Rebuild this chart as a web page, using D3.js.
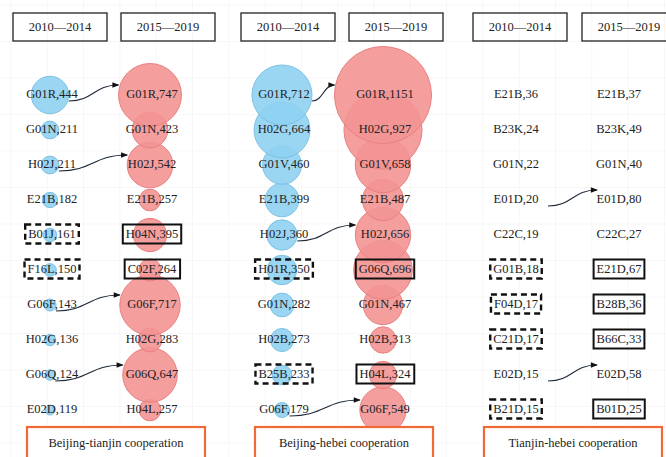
<!DOCTYPE html>
<html>
<head>
<meta charset="utf-8">
<script src="https://cdn.jsdelivr.net/npm/d3@7"></script>
<style>
  body { margin: 0; background: #fff; }
  svg text { font-family: "Liberation Serif", "DejaVu Serif", "Times New Roman", serif; font-size: 12.5px; fill: #222; }
</style>
</head>
<body>
<script>
// chart data
var periods = ["2010\u20142014", "2015\u20142019"];
var regions = ["Beijing-tianjin cooperation", "Beijing-hebei cooperation", "Tianjin-hebei cooperation"];

// Beijing-tianjin
var bjtjCodes0 = ["G01R", "G01N", "H02J", "E21B", "B01J", "F16L", "G06F", "H02G", "G06Q", "E02D"];
var bjtjValues0 = [444, 211, 211, 182, 161, 150, 143, 136, 124, 119];
var bjtjCodes1 = ["G01R", "G01N", "H02J", "E21B", "H04N", "C02F", "G06F", "H02G", "G06Q", "H04L"];
var bjtjValues1 = [747, 423, 542, 257, 395, 264, 717, 283, 647, 257];
var bjtjDashed = ["B01J", "F16L"];
var bjtjSolid = ["H04N", "C02F"];
var bjtjArrows = ["G01R", "H02J", "G06F", "G06Q"];

// Beijing-hebei
var bjhbCodes0 = ["G01R", "H02G", "G01V", "E21B", "H02J", "H01R", "G01N", "H02B", "B25B", "G06F"];
var bjhbValues0 = [712, 664, 460, 399, 360, 350, 282, 273, 233, 179];
var bjhbCodes1 = ["G01R", "H02G", "G01V", "E21B", "H02J", "G06Q", "G01N", "H02B", "H04L", "G06F"];
var bjhbValues1 = [1151, 927, 658, 487, 656, 696, 467, 313, 324, 549];
var bjhbDashed = ["H01R", "B25B"];
var bjhbSolid = ["G06Q", "H04L"];
var bjhbArrows = ["G01R", "H02J", "G06F"];

// Tianjin-hebei
var tjhbCodes0 = ["E21B", "B23K", "G01N", "E01D", "C22C", "G01B", "F04D", "C21D", "E02D", "B21D"];
var tjhbValues0 = [36, 24, 22, 20, 19, 18, 17, 17, 15, 15];
var tjhbCodes1 = ["E21B", "B23K", "G01N", "E01D", "C22C", "E21D", "B28B", "B66C", "E02D", "B01D"];
var tjhbValues1 = [37, 49, 40, 80, 27, 67, 36, 33, 58, 25];
var tjhbDashed = ["G01B", "F04D", "C21D", "B21D"];
var tjhbSolid = ["E21D", "B28B", "B66C", "B01D"];
var tjhbArrows = ["E01D", "E02D"];

(function(){
  var width = 666, height = 457;

  // panel layout: column centres, header boxes, bottom box
  var panels = [
    {codes: [bjtjCodes0, bjtjCodes1], values: [bjtjValues0, bjtjValues1], dashed: bjtjDashed, solid: bjtjSolid, arrows: bjtjArrows,
     cols: [52, 152], heads: [13, 121], foot: 27, bubbles: true},
    {codes: [bjhbCodes0, bjhbCodes1], values: [bjhbValues0, bjhbValues1], dashed: bjhbDashed, solid: bjhbSolid, arrows: bjhbArrows,
     cols: [284, 385], heads: [241, 349], foot: 255, bubbles: true},
    {codes: [tjhbCodes0, tjhbCodes1], values: [tjhbValues0, tjhbValues1], dashed: tjhbDashed, solid: tjhbSolid, arrows: tjhbArrows,
     cols: [516, 619], heads: [473, 582], foot: 484, bubbles: false}
  ];

  var svg = d3.select("body").append("svg")
    .attr("width", width)
    .attr("height", height);

  // arrow head marker
  svg.append("defs").append("marker")
    .attr("id", "head")
    .attr("viewBox", "0 -4 8 8")
    .attr("refX", 7)
    .attr("refY", 0)
    .attr("markerUnits", "userSpaceOnUse")
    .attr("markerWidth", 8)
    .attr("markerHeight", 7)
    .attr("orient", "auto")
    .append("path")
    .attr("d", "M0,-3.2L8,0L0,3.2Z")
    .attr("fill", "#111");

  // faint spreadsheet grid in background
  var grid = svg.append("g").attr("class", "grid");
  grid.selectAll(".gv")
    .data(d3.range(11, width, 36.3))
    .enter().append("line")
    .attr("x1", function(d){ return d; })
    .attr("x2", function(d){ return d; })
    .attr("y1", 0).attr("y2", height)
    .attr("stroke", "#f7f7f7");
  grid.selectAll(".gh")
    .data(d3.range(5, height, 36.5))
    .enter().append("line")
    .attr("y1", function(d){ return d; })
    .attr("y2", function(d){ return d; })
    .attr("x1", 0).attr("x2", width)
    .attr("stroke", "#f7f7f7");

  var yScale = d3.scaleLinear().domain([0, 9]).range([94, 409]);
  var rScale = d3.scaleLinear().domain([0, 1151]).range([0, 48.5]);
  var fills = ["#8fd1f1", "#f39494"];
  var strokes = ["#7cc2e6", "#ea8080"];

  panels.forEach(function(p){
    var g = svg.append("g");

    // header boxes
    periods.forEach(function(label, c){
      g.append("rect")
        .attr("x", p.heads[c]).attr("y", 13)
        .attr("width", 94).attr("height", 28)
        .attr("fill", "none")
        .attr("stroke", "#222")
        .attr("stroke-width", 1.3);
      g.append("text")
        .attr("x", p.heads[c] + 47).attr("y", 27)
        .attr("dy", "0.35em")
        .attr("text-anchor", "middle")
        .text(label);
    });

    // bubbles, drawn bottom row first so upper rows sit on top
    if (p.bubbles){
      [0, 1].forEach(function(c){
        var rows = d3.range(p.values[c].length).reverse();
        g.selectAll(".bubble" + c)
          .data(rows)
          .enter().append("circle")
          .attr("cx", p.cols[c] - 2)
          .attr("cy", function(i){ return yScale(i) + 1; })
          .attr("r", function(i){ return rScale(p.values[c][i]); })
          .attr("fill", fills[c])
          .attr("fill-opacity", 0.9)
          .attr("stroke", strokes[c])
          .attr("stroke-width", 1);
      });
    }

    // labels + frames
    [0, 1].forEach(function(c){
      p.codes[c].forEach(function(code, i){
        var t = g.append("text")
          .attr("x", p.cols[c])
          .attr("y", yScale(i))
          .attr("dy", "0.35em")
          .attr("text-anchor", "middle")
          .text(code + "," + p.values[c][i]);
        var boxed = c == 0 ? p.dashed.indexOf(code) >= 0 : p.solid.indexOf(code) >= 0;
        if (boxed){
          var bb = t.node().getBBox();
          g.append("rect")
            .attr("x", bb.x - 3).attr("y", yScale(i) - 9.5)
            .attr("width", bb.width + 6).attr("height", 19)
            .attr("fill", "none")
            .attr("stroke", "#111")
            .attr("stroke-width", c == 0 ? 2.4 : 2)
            .attr("stroke-dasharray", c == 0 ? "6,4" : null);
        }
      });
    });

    // arrows between matching codes
    p.arrows.forEach(function(code){
      var i0 = p.codes[0].indexOf(code),
          i1 = p.codes[1].indexOf(code);
      var x0, x1;
      if (p.bubbles){
        x0 = p.cols[0] - 2 + rScale(p.values[0][i0]);
        x1 = p.cols[1] - 2 - rScale(p.values[1][i1]);
      } else {
        x0 = p.cols[0] + 32;
        x1 = p.cols[1] - 22;
      }
      var y0 = yScale(i0) + 7,
          y1 = yScale(i1) - 9,
          mx = (x0 + x1) / 2;
      g.append("path")
        .attr("d", "M" + x0 + "," + y0 + "C" + mx + "," + y0 + " " + mx + "," + y1 + " " + x1 + "," + y1)
        .attr("fill", "none")
        .attr("stroke", "#1d2b3a")
        .attr("stroke-width", 1.2)
        .attr("marker-end", "url(#head)");
    });
  });

  // region boxes at the bottom
  panels.forEach(function(p, k){
    svg.append("rect")
      .attr("x", p.foot).attr("y", 427)
      .attr("width", 178).attr("height", 40)
      .attr("fill", "#fff")
      .attr("stroke", "#ef6a36")
      .attr("stroke-width", 2.2);
    svg.append("text")
      .attr("x", p.foot + 89).attr("y", 443)
      .attr("dy", "0.35em")
      .attr("text-anchor", "middle")
      .text(regions[k]);
  });
})();
</script>
</body>
</html>
